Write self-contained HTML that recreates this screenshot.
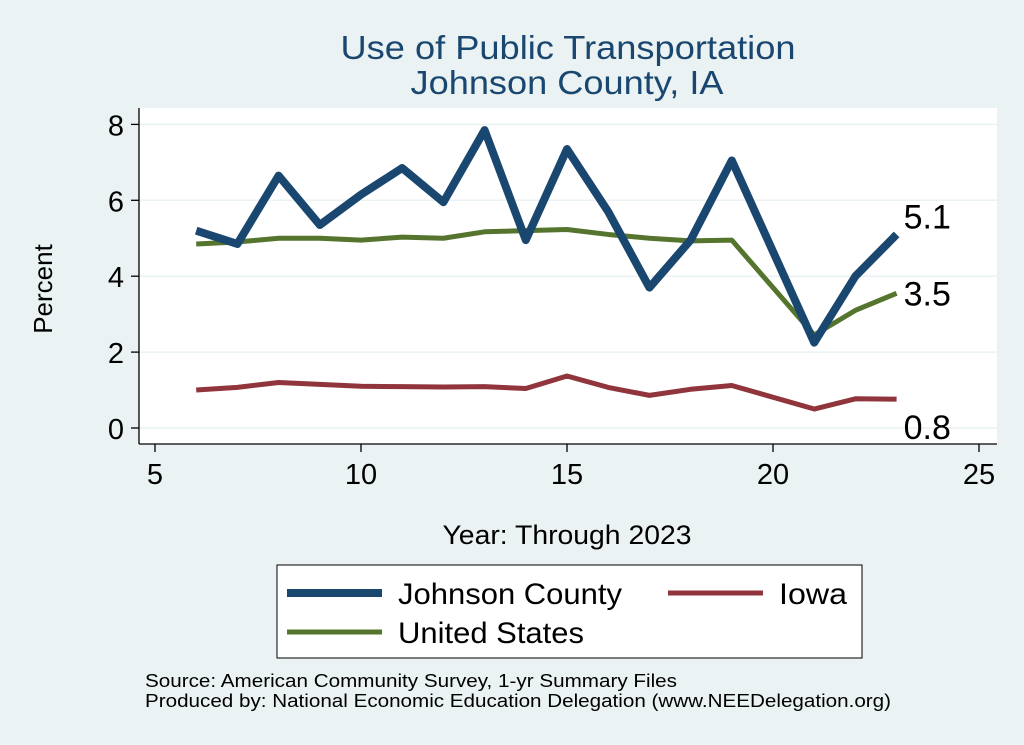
<!DOCTYPE html>
<html><head><meta charset="utf-8"><style>
body{margin:0;background:#eaf2f3;}
svg{display:block;font-family:"Liberation Sans",Arial,sans-serif;}
</style></head><body>
<svg width="1024" height="745" viewBox="0 0 1024 745">
<rect x="0" y="0" width="1024" height="745" fill="#eaf2f3"/>
<text x="568" y="59" text-anchor="middle" font-size="33" textLength="455" lengthAdjust="spacingAndGlyphs" fill="#1a476f">Use of Public Transportation</text>
<text x="567" y="94" text-anchor="middle" font-size="33" textLength="313" lengthAdjust="spacingAndGlyphs" fill="#1a476f">Johnson County, IA</text>
<rect x="139" y="108" width="858" height="336" fill="#fff"/>
<g id="grid"></g>
<g id="series"></g>
<g id="axes"></g>
<text transform="translate(52,289) rotate(-90)" text-anchor="middle" font-size="26" fill="#000">Percent</text>
<text x="567" y="544" text-anchor="middle" font-size="27" textLength="249" lengthAdjust="spacingAndGlyphs" fill="#000">Year: Through 2023</text>
<g>
<rect x="277" y="565" width="585" height="93" fill="#fff" stroke="#000" stroke-width="1"/>
<line x1="287" y1="593" x2="382" y2="593" stroke="#1a476f" stroke-width="8"/>
<text x="398" y="604" font-size="30" textLength="224" lengthAdjust="spacingAndGlyphs">Johnson County</text>
<line x1="668" y1="593" x2="763" y2="593" stroke="#90353b" stroke-width="5"/>
<text x="779" y="604" font-size="30" textLength="68" lengthAdjust="spacingAndGlyphs">Iowa</text>
<line x1="287" y1="632" x2="382" y2="632" stroke="#55752f" stroke-width="5"/>
<text x="398" y="643" font-size="30" textLength="186" lengthAdjust="spacingAndGlyphs">United States</text>
</g>
<text x="145" y="687" font-size="18" textLength="532" lengthAdjust="spacingAndGlyphs">Source: American Community Survey, 1-yr Summary Files</text>
<text x="145" y="707" font-size="18" textLength="746" lengthAdjust="spacingAndGlyphs">Produced by: National Economic Education Delegation (www.NEEDelegation.org)</text>
</svg>
<script>
const years=[6,7,8,9,10,11,12,13,14,15,16,17,18,19,21,22,23];
const johnson=[5.2,4.85,6.65,5.35,6.15,6.85,5.95,7.85,4.95,7.35,5.7,3.7,4.95,7.05,2.25,4.0,5.1];
const iowa=[1.0,1.07,1.2,1.15,1.1,1.09,1.08,1.09,1.04,1.37,1.07,0.86,1.02,1.12,0.5,0.77,0.76];
const us=[4.85,4.9,5.0,5.0,4.95,5.03,5.0,5.17,5.2,5.23,5.1,5.0,4.93,4.95,2.45,3.1,3.55];
const yTicks=[0,2,4,6,8];
const xTicks=[5,10,15,20,25];
const endLabels=["5.1","0.8","3.5"];
const NS="http://www.w3.org/2000/svg";
function X(v){return 155+(v-5)*41.2;}
function Y(v){return 428-v*37.95;}
function mk(t,a,p){const e=document.createElementNS(NS,t);for(const k in a)e.setAttribute(k,a[k]);p.appendChild(e);return e;}
const grid=document.getElementById('grid'),ser=document.getElementById('series'),ax=document.getElementById('axes');
yTicks.forEach(t=>{
 const g=mk('line',{x1:139,x2:997,y1:Y(t),y2:Y(t),stroke:'#eaf2f3','stroke-width':1.5},grid);
 
 
 const tk=mk('line',{x1:131,x2:139,y1:Y(t),y2:Y(t),stroke:'#000','stroke-width':1.3},ax);
 
 
 const l=mk('text',{x:124,y:Y(t)+11,'text-anchor':'end','font-size':29},ax);l.textContent=t;
 
 
});
xTicks.forEach(t=>{
 const tk=mk('line',{x1:X(t),x2:X(t),y1:444,y2:452,stroke:'#000','stroke-width':1.3},ax);
 
 
 const l=mk('text',{x:X(t),y:484,'text-anchor':'middle','font-size':29},ax);l.textContent=t;
 
 
});
const yl=mk('line',{x1:139,x2:139,y1:108,y2:444,stroke:'#000','stroke-width':1.3},ax);


const xl=mk('line',{x1:139,x2:997,y1:444,y2:444,stroke:'#000','stroke-width':1.3},ax);


function line(vals,col,w,name){
 const d=vals.map((v,i)=>(i?'L':'M')+X(years[i])+','+Y(v)).join('');
 const p=mk('path',{d:d,fill:'none',stroke:col,'stroke-width':w,'stroke-linejoin':'round'},ser);
 
 
}
line(us,'#55752f',5,'line-us');
line(iowa,'#90353b',5,'line-iowa');
line(johnson,'#1a476f',8,'line-johnson');
const n=years.length-1;
[[johnson,endLabels[0],-6],[iowa,endLabels[1],40],[us,endLabels[2],12]].forEach((a,i)=>{
 const t=mk('text',{x:X(years[n])+7,y:Y(a[0][n])+a[2],'font-size':34},ax);t.textContent=a[1];
 
 
});
</script>
</body></html>
